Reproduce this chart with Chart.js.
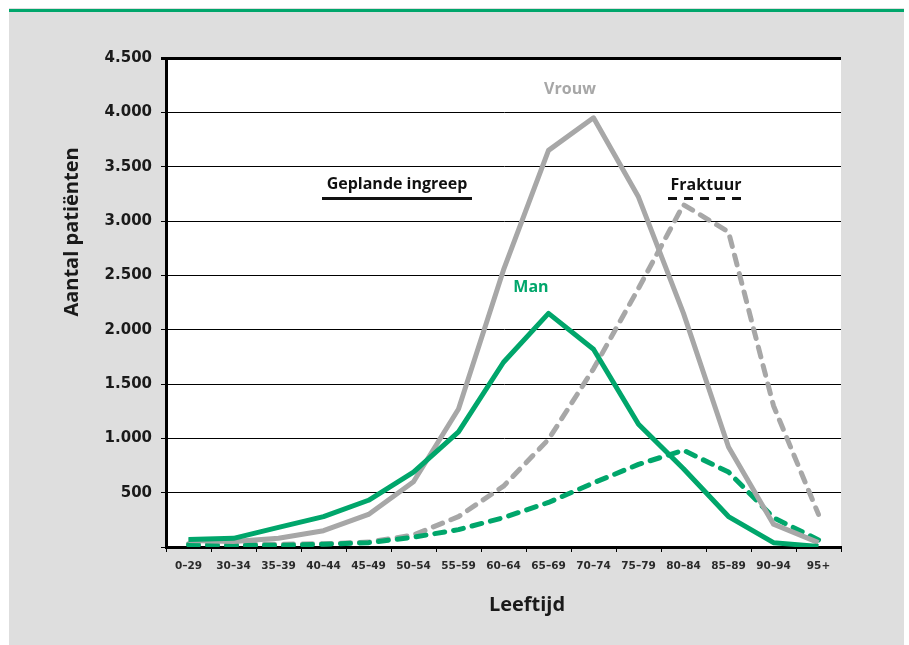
<!DOCTYPE html>
<html>
<head>
<meta charset="utf-8">
<script src="https://cdn.jsdelivr.net/npm/chart.js@4/dist/chart.umd.min.js"></script>
<style>
  html, body { margin: 0; padding: 0; background: #ffffff; }
  #wrap { position: relative; width: 909px; height: 645px; }
  canvas { display: block; }
</style>
</head>
<body>
<div id="wrap"><canvas id="chart" width="909" height="645"></canvas></div>
<script>
// Age groups
const ageGroups = ['0–29', '30–34', '35–39', '40–44', '45–49', '50–54', '55–59', '60–64',
                   '65–69', '70–74', '75–79', '80–84', '85–89', '90–94', '95+'];

// Planned surgery (solid lines)
const plannedWomen = [60, 50, 80, 150, 300, 600, 1270, 2550, 3650, 3950, 3220, 2150, 920, 210, 40];
const plannedMen   = [70, 80, 180, 280, 430, 690, 1060, 1700, 2150, 1820, 1130, 720, 280, 40, 5];

// Fracture (dashed lines)
const fractureWomen = [30, 30, 25, 30, 45, 110, 280, 560, 990, 1640, 2380, 3150, 2900, 1300, 300];
const fractureMen   = [20, 15, 15, 25, 40, 90, 160, 270, 410, 590, 760, 890, 690, 270, 65];

// Value axis ticks
const yTicks = [0, 500, 1000, 1500, 2000, 2500, 3000, 3500, 4000, 4500];

const GREEN = '#00a66b';
const GREY = '#a7a7a7';
const PANEL = '#dedede';

const fmt = v => v === 0 ? '' : v.toLocaleString('nl-NL');

// Page frame: grey panel with green rule on top, plus chart annotations
const framePlugin = {
  id: 'frame',
  beforeDraw(chart) {
    const ctx = chart.ctx;
    ctx.save();
    ctx.fillStyle = '#ffffff';
    ctx.fillRect(0, 0, chart.width, chart.height);
    ctx.fillStyle = PANEL;
    ctx.fillRect(9, 8, 895, 637);
    ctx.fillStyle = GREEN;
    ctx.fillRect(9, 9, 895, 3);
    // white plot background
    const a = chart.chartArea;
    ctx.fillStyle = '#ffffff';
    ctx.fillRect(a.left, a.top, a.right - a.left, a.bottom - a.top);
    ctx.restore();
  },
  afterDraw(chart) {
    const ctx = chart.ctx;
    ctx.save();
    ctx.textAlign = 'center';
    ctx.textBaseline = 'middle';

    // axis titles
    ctx.fillStyle = '#1a1a1a';
    ctx.font = 'bold 20px "Open Sans"';
    ctx.fillText('Leeftijd', 527, 605);
    ctx.save();
    ctx.translate(72, 232);
    ctx.rotate(-Math.PI / 2);
    ctx.fillText('Aantal patiënten', 0, 0);
    ctx.restore();

    // series labels
    ctx.font = 'bold 16px "Open Sans"';
    ctx.fillStyle = GREY;
    ctx.fillText('Vrouw', 570, 89);
    ctx.fillStyle = GREEN;
    ctx.fillText('Man', 531, 287);

    // legend-style captions with solid / dashed underline
    ctx.fillStyle = '#111111';
    ctx.fillText('Geplande ingreep', 397, 184);
    ctx.fillText('Fraktuur', 706, 185);
    ctx.strokeStyle = '#111111';
    ctx.lineWidth = 3;
    ctx.beginPath();
    ctx.moveTo(322, 198.5);
    ctx.lineTo(472, 198.5);
    ctx.stroke();
    ctx.setLineDash([9, 7]);
    ctx.beginPath();
    ctx.moveTo(668, 198.5);
    ctx.lineTo(743, 198.5);
    ctx.stroke();
    ctx.restore();
  }
};

const lineStyle = (color, dashed) => ({
  borderColor: color,
  backgroundColor: color,
  borderWidth: 5,
  borderDash: dashed ? [10, 9] : [],
  borderCapStyle: dashed ? 'round' : 'butt',
  borderJoinStyle: 'round',
  pointRadius: 0,
  tension: 0,
  fill: false
});

new Chart(document.getElementById('chart'), {
  type: 'line',
  data: {
    labels: ageGroups,
    datasets: [
      Object.assign({ label: 'Man – geplande ingreep', data: plannedMen }, lineStyle(GREEN, false)),
      Object.assign({ label: 'Vrouw – geplande ingreep', data: plannedWomen }, lineStyle(GREY, false)),
      Object.assign({ label: 'Man – fraktuur', data: fractureMen }, lineStyle(GREEN, true)),
      Object.assign({ label: 'Vrouw – fraktuur', data: fractureWomen }, lineStyle(GREY, true))
    ]
  },
  options: {
    responsive: false,
    animation: false,
    events: [],
    layout: { padding: { left: 0, top: 58, right: 68, bottom: 0 } },
    plugins: { legend: { display: false }, tooltip: { enabled: false } },
    scales: {
      x: {
        type: 'category',
        offset: true,
        grid: {
          offset: true,
          drawOnChartArea: false,
          drawTicks: true,
          tickLength: 5,
          color: '#000000',
          lineWidth: 1
        },
        border: { display: true, color: '#000000', width: 3 },
        ticks: {
          color: '#2a2a2a',
          font: { family: '"DejaVu Sans"', size: 10.5, weight: 'bold' },
          padding: 8,
          maxRotation: 0,
          autoSkip: false
        },
        afterFit(scale) { scale.height = 98; }
      },
      y: {
        min: 0,
        max: 4500,
        afterBuildTicks(scale) { scale.ticks = yTicks.map(v => ({ value: v })); },
        grid: {
          color: '#000000',
          lineWidth: ctx => (ctx.tick && ctx.tick.value === 4500) ? 3 : 1,
          tickLength: 5,
          drawTicks: true
        },
        border: { display: true, color: '#000000', width: 3 },
        ticks: {
          color: '#1a1a1a',
          font: { family: '"DejaVu Sans"', size: 15, weight: 'bold' },
          padding: 9,
          callback: v => fmt(v)
        },
        afterFit(scale) { scale.width = 166; }
      }
    }
  },
  plugins: [framePlugin]
});
</script>
</body>
</html>
